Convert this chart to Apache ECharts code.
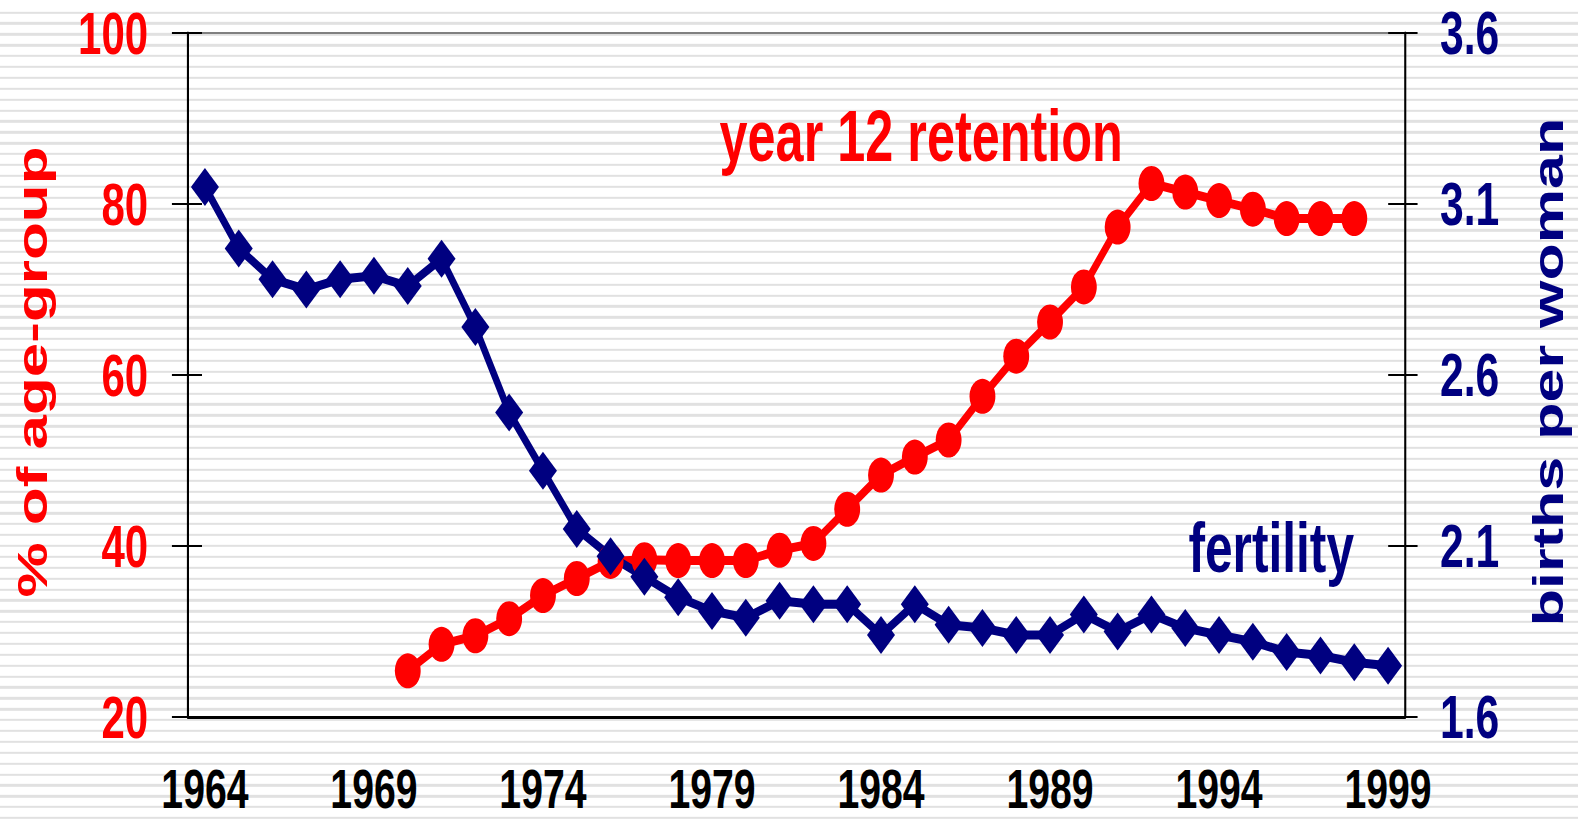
<!DOCTYPE html>
<html>
<head>
<meta charset="utf-8">
<script src="https://cdn.jsdelivr.net/npm/echarts@6/dist/echarts.min.js"></script>
<style>
    html, body {
        margin: 0;
        padding: 0;
        width: 1578px;
        height: 821px;
        overflow: hidden;
        background: repeating-linear-gradient(to bottom, #ffffff 0px, #ffffff 8.6px, #e1e1e1 8.6px, #e1e1e1 10.885px);
        background-position: 0 2.85px;
    }
    /* the original picture is squeezed sideways, so draw wide and squeeze */
    #main {
        width: 2254px;
        height: 821px;
        transform: scaleX(0.7);
        transform-origin: 0 0;
    }
</style>
</head>
<body>
<div id="main"></div>
<script>
    // years on the category axis
    var years = ['1964','1965','1966','1967','1968','1969','1970','1971','1972','1973',
                 '1974','1975','1976','1977','1978','1979','1980','1981','1982','1983',
                 '1984','1985','1986','1987','1988','1989','1990','1991','1992','1993',
                 '1994','1995','1996','1997','1998','1999'];

    // year 12 retention, % of age-group (1970 - 1998)
    var retention = [null, null, null, null, null, null,
                     25.4, 28.5, 29.5, 31.5, 34.2, 36.2, 38.2, 38.4, 38.3, 38.3,
                     38.3, 39.5, 40.3, 44.3, 48.3, 50.4, 52.4, 57.5, 62.2, 66.2,
                     70.3, 77.3, 82.4, 81.4, 80.4, 79.4, 78.3, 78.3, 78.3, null];

    // fertility, births per woman (1964 - 1999)
    var fertility = [3.15, 2.97, 2.88, 2.85, 2.88, 2.89, 2.86, 2.94, 2.74, 2.49,
                     2.32, 2.15, 2.07, 2.01, 1.95, 1.91, 1.89, 1.94, 1.93, 1.93,
                     1.84, 1.93, 1.87, 1.86, 1.84, 1.84, 1.90, 1.85, 1.90, 1.86,
                     1.84, 1.82, 1.79, 1.78, 1.76, 1.75];

    var leftTicks = {min: 20, max: 100, interval: 20};
    var rightTicks = {min: 1.6, max: 3.6, interval: 0.5};

    var RED = '#ff0000';
    var NAVY = '#000080';
    var FONT = '"Liberation Sans", Arial, sans-serif';

    var chart = echarts.init(document.getElementById('main'), null, {renderer: 'svg'});

    var option = {
        animation: false,
        backgroundColor: 'transparent',
        grid: {left: 268.6, right: 246.9, top: 33, bottom: 104, containLabel: false},
        xAxis: [
            {
                type: 'category',
                data: years,
                position: 'bottom',
                boundaryGap: true,
                axisLine: {onZero: false, lineStyle: {color: '#000', width: 3}},
                axisTick: {interval: 4, length: 18, lineStyle: {color: '#000', width: 3}},
                axisLabel: {interval: 4, margin: 49, lineHeight: 44, color: '#000', fontSize: 56, fontWeight: 'bold', fontFamily: FONT},
                splitLine: {show: false}
            },
            {
                // inner half of the crossing ticks
                type: 'category',
                data: years,
                position: 'bottom',
                boundaryGap: true,
                axisLine: {show: false, onZero: false},
                axisTick: {interval: 4, inside: true, length: 15, lineStyle: {color: '#000', width: 3}},
                axisLabel: {show: false},
                splitLine: {show: false}
            },
            {
                // grey top border
                type: 'category',
                data: years,
                position: 'top',
                z: -1,
                axisLine: {onZero: false, lineStyle: {color: '#808080', width: 2}},
                axisTick: {show: false},
                axisLabel: {show: false},
                splitLine: {show: false}
            }
        ],
        yAxis: [
            {
                type: 'value',
                position: 'left',
                min: leftTicks.min, max: leftTicks.max, interval: leftTicks.interval,
                axisLine: {show: true, lineStyle: {color: '#000', width: 3}},
                axisTick: {show: true, length: 23, lineStyle: {color: '#000', width: 2}},
                axisLabel: {margin: 57, color: RED, fontSize: 60, fontWeight: 'bold', fontFamily: FONT},
                splitLine: {show: false}
            },
            {
                type: 'value',
                position: 'right',
                min: rightTicks.min, max: rightTicks.max, interval: rightTicks.interval,
                axisLine: {show: true, lineStyle: {color: '#000', width: 3}},
                axisTick: {show: true, length: 18, lineStyle: {color: '#000', width: 2}},
                axisLabel: {
                    margin: 50, color: NAVY, fontSize: 61, fontWeight: 'bold', fontFamily: FONT,
                    formatter: function (v) { return v.toFixed(1); }
                },
                splitLine: {show: false}
            },
            {
                type: 'value',
                position: 'left',
                min: leftTicks.min, max: leftTicks.max, interval: leftTicks.interval,
                axisLine: {show: false},
                axisTick: {show: true, inside: true, length: 20, lineStyle: {color: '#000', width: 2}},
                axisLabel: {show: false},
                splitLine: {show: false}
            },
            {
                type: 'value',
                position: 'right',
                min: rightTicks.min, max: rightTicks.max, interval: rightTicks.interval,
                axisLine: {show: false},
                axisTick: {show: true, inside: true, length: 24, lineStyle: {color: '#000', width: 2}},
                axisLabel: {show: false},
                splitLine: {show: false}
            }
        ],
        series: [
            {
                name: 'year 12 retention',
                type: 'line',
                xAxisIndex: 0,
                yAxisIndex: 0,
                data: retention,
                symbol: 'circle',
                symbolSize: [37, 35],
                showAllSymbol: true,
                lineStyle: {color: RED, width: 9},
                itemStyle: {color: RED}
            },
            {
                name: 'fertility',
                type: 'line',
                xAxisIndex: 0,
                yAxisIndex: 1,
                data: fertility,
                symbol: 'diamond',
                symbolSize: [40, 38],
                showAllSymbol: true,
                lineStyle: {color: NAVY, width: 9},
                itemStyle: {color: NAVY}
            }
        ],
        graphic: [
            {
                type: 'text', x: 46, y: 372, rotation: Math.PI / 2,
                style: {text: '% of age-group', fill: RED, font: 'bold 62px ' + FONT,
                        align: 'center', verticalAlign: 'middle', textAlign: 'center', textVerticalAlign: 'middle'}
            },
            {
                type: 'text', x: 2212, y: 372, rotation: Math.PI / 2,
                style: {text: 'births per woman', fill: NAVY, font: 'bold 61px ' + FONT,
                        align: 'center', verticalAlign: 'middle', textAlign: 'center', textVerticalAlign: 'middle'}
            },
            {
                type: 'text', x: 1316, y: 136,
                style: {text: 'year 12 retention', fill: RED, font: 'bold 72px ' + FONT,
                        align: 'center', verticalAlign: 'middle', textAlign: 'center', textVerticalAlign: 'middle'}
            },
            {
                type: 'text', x: 1816, y: 548,
                style: {text: 'fertility', fill: NAVY, font: 'bold 71px ' + FONT,
                        align: 'center', verticalAlign: 'middle', textAlign: 'center', textVerticalAlign: 'middle'}
            }
        ]
    };

    chart.setOption(option);
</script>
</body>
</html>
